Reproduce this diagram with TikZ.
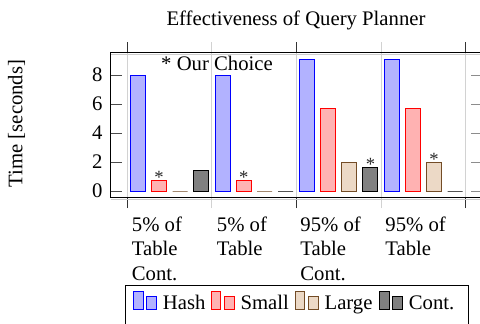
\documentclass[tikz,border=0pt]{standalone}
\usepackage{fontspec}
\setmainfont{Liberation Serif}
\usepackage{tikz}
\usetikzlibrary{positioning}

\tikzset{
  hashbar/.style={draw=blue, fill=blue!30},
  smallbar/.style={draw=red, fill=red!30},
  largebar/.style={draw=brown!60!black, fill=brown!30},
  contbar/.style={draw=black, fill=gray},
  gridline/.style={gray!35},
  choicemark/.style={inner sep=0, anchor=base, text=black!85, font=\fontsize{9}{10}\selectfont},
  xlab/.style={anchor=north west, inner sep=0, align=left},
}

\begin{document}
\begin{tikzpicture}[x=0.483pt, y=0.483pt, font=\fontsize{10}{12}\selectfont]
    \useasboundingbox (0,0) rectangle (480,323);

    % 网格
    \foreach \gx in {127,211.7,296.4,381.1,465.8} {
        \draw[gridline] (\gx,115) -- (\gx,281);
    }
    \foreach \gx in {127,296.4,465.8} {
        \draw[black!80] (\gx,271) -- (\gx,281);
        \draw[black!80] (\gx,115) -- (\gx,125.5);
    }

    % 坐标框
    \draw[gray!40] (110.5,269) -- (482,269);
    \draw[gray!40] (110.5,124) -- (482,124);
    \draw (110.5,125.5) rectangle (482,271);
    \foreach \v in {0,2,...,8} {
        \draw[black!70] (110.5,132+14.5*\v) -- (122,132+14.5*\v);
        \draw[black!45] (471,132+14.5*\v) -- (482,132+14.5*\v);
        \node[anchor=east, inner sep=0] (ytick\v) at (103,132+14.5*\v) {\v};
    }

    % 标题
    \node[anchor=base] (title) at (296,298) {Effectiveness of Query Planner};
    \node[rotate=90] (ylab) at (16.5,199.5) {Time [seconds]};
    \node[anchor=base] (note) at (217,253) {* Our Choice};

    % 柱
    \foreach \g/\a/\b/\c/\d in {0/8.0/0.74/0/1.43, 1/8.0/0.74/0/0, 2/9.08/5.72/2.0/1.66, 3/9.08/5.72/2.0/0} {
        \pgfmathsetmacro{\bx}{130.5+84.7*\g}
        \draw[hashbar] (\bx,132) rectangle ++(15,14.5*\a);
        \draw[smallbar] (\bx+21,132) rectangle ++(15,14.5*\b);
        \draw[largebar] (\bx+42,132) rectangle ++(15,14.5*\c);
        \draw[contbar] (\bx+63,132) rectangle ++(15,14.5*\d);
    }

    % 星号
    \foreach \sx/\sv [count=\i] in {159/0.74, 243.7/0.74, 370.4/1.66, 434.1/2.0} {
        \node[choicemark] (star\i) at (\sx,132+14.5*\sv-3.5) {*};
    }

    % 横轴标签
    \node[xlab] (grp1) at (131.5,107) {5\% of\\Table\\Cont.};
    \node[xlab] (grp2) at (216.5,107) {5\% of\\Table};
    \node[xlab] (grp3) at (300,107) {95\% of\\Table\\Cont.};
    \node[xlab] (grp4) at (385,107) {95\% of\\Table};

    % 图例
    \draw (125,-10) rectangle (468,38);
    \foreach \lx/\st/\txt [count=\i] in {133.3/hashbar/Hash, 211/smallbar/Small, 295/largebar/Large, 379.3/contbar/Cont.} {
        \draw[\st] (\lx,13.7) rectangle ++(9.7,17.6);
        \draw[\st] (\lx+13.4,13.7) rectangle ++(10,12.6);
        \node[anchor=base west, inner sep=0] (leg\i) at (\lx+29.2,13.7) {\txt};
    }
\end{tikzpicture}
\end{document}
